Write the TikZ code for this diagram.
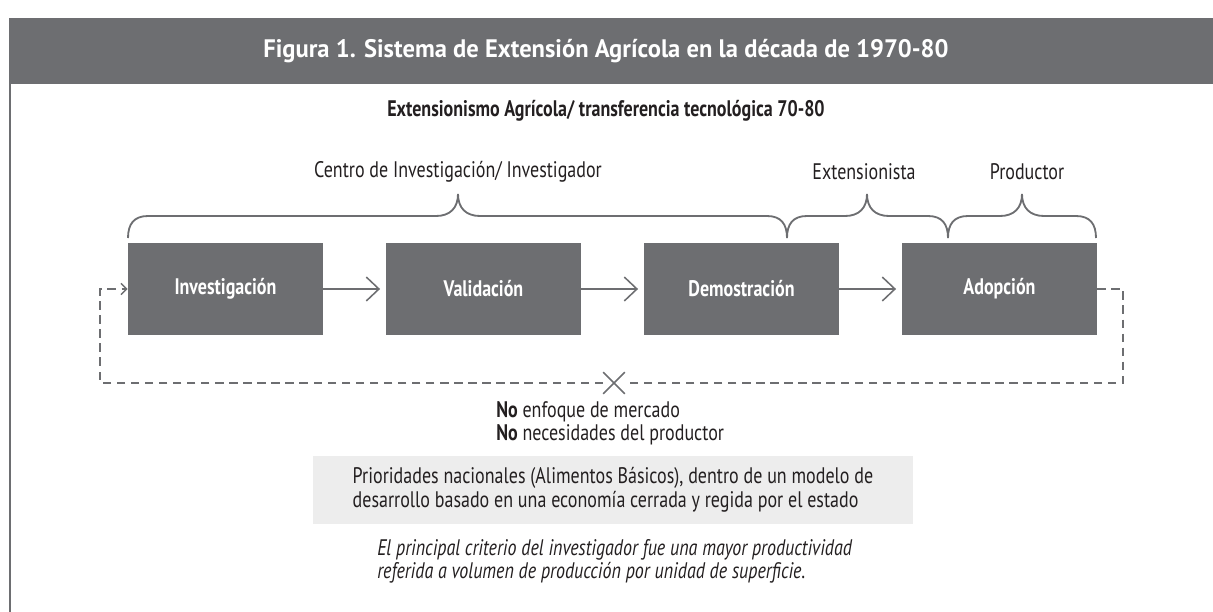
\documentclass[tikz,border=0pt]{standalone}
\usepackage{fontspec}
\setmainfont{PT Sans}[FakeStretch=0.8]
\newfontfamily\headfont{PT Sans}[FakeStretch=0.97]
\usepackage{tikz}
\usetikzlibrary{arrows.meta, shapes.misc}

\definecolor{bandgray}{HTML}{6D6E71}
\definecolor{panelgray}{HTML}{EDEDED}
\definecolor{inkdark}{HTML}{231F20}

% curly brace: left x, right x, tip x
\newcommand{\curlybrace}[3]{%
  \draw[braceline] (#1,238) .. controls (#1,224) and (#1+6,216) .. (#1+20,216)
    -- (#3-22,216) .. controls (#3-8,216) and (#3,208) .. (#3,194)
    .. controls (#3,208) and (#3+8,216) .. (#3+22,216)
    -- (#2-20,216) .. controls (#2-6,216) and (#2,224) .. (#2,238);}

\begin{document}
\begin{tikzpicture}[x=0.025cm, y=-0.025cm, font=\fontsize{16}{16.8}\selectfont, text=inkdark,
    stepbox/.style={fill=bandgray, text=white, font=\fontsize{16}{16.8}\selectfont\bfseries,
        minimum width=4.875cm, minimum height=2.3cm, inner sep=0pt},
    flow/.style={-{Straight Barb[length=9pt, width=17pt]}, bandgray, line width=1.1pt, shorten >=4pt},
    loopline/.style={-{Straight Barb[length=4pt, width=8pt]}, bandgray, line width=1.1pt,
        dash pattern=on 6pt off 4pt},
    braceline/.style={bandgray, line width=1.3pt},
    xmark/.style={cross out, draw=bandgray, line width=1.1pt, minimum size=0.5cm, inner sep=0pt}]

\useasboundingbox (0,0) rectangle (1213,612);

% ── Header ───────────────────────────────────────────────────────
\fill[bandgray] (9,18) rectangle (1213,84);
\draw[bandgray, line width=1.3pt] (10,84) -- (10,612);
\node[text=white, font=\headfont\fontsize{18}{21}\selectfont\bfseries] (title) at (606,51)
    {Figura 1. Sistema de Extensión Agrícola en la década de 1970-80};
\node[font=\fontsize{16}{16.8}\selectfont\bfseries] (subtitle) at (606,111)
    {Extensionismo Agrícola/ transferencia tecnológica 70-80};

% ── Braces and actors ────────────────────────────────────────────
\curlybrace{128}{787}{458}
\curlybrace{787}{948}{867}
\curlybrace{948}{1096}{1022}
\node (centro) at (458,172) {Centro de Investigación/ Investigador};
\node (extens) at (864,172) {Extensionista};
\node (produc) at (1027,172) {Productor};

% ── Process chain ────────────────────────────────────────────────
\node[stepbox] (inv) at (225.5,289) {Investigación};
\node[stepbox] (val) at (483.5,289) {Validación};
\node[stepbox] (dem) at (741.5,289) {Demostración};
\node[stepbox] (adp) at (999.5,289) {Adopción};

\draw[flow] (inv) -- (val);
\draw[flow] (val) -- (dem);
\draw[flow] (dem) -- (adp);

% Broken feedback loop
\node[xmark] (nox) at (614,383) {};
\coordinate (loopr) at (1123,383);
\coordinate (loopl) at (100,383);
\draw[loopline] (adp.east) -| (loopr) -- (nox) -- (loopl) |- (inv.west);

% ── Notes ────────────────────────────────────────────────────────
\node[anchor=north west, align=left, inner sep=0pt] (nonote) at (496,401)
    {\textbf{No} enfoque de mercado\\ \textbf{No} necesidades del productor};

\node[fill=panelgray, align=left, minimum width=15cm, minimum height=1.7cm] (prio) at (613,490)
    {Prioridades nacionales (Alimentos Básicos), dentro de un modelo de\\
     desarrollo basado en una economía cerrada y regida por el estado};

\node[anchor=north west, align=left, inner sep=0pt, font=\fontsize{16}{16.8}\selectfont\itshape] (crit) at (377,539)
    {El principal criterio del investigador fue una mayor productividad\\
     referida a volumen de producción por unidad de superficie.};

\end{tikzpicture}
\end{document}
